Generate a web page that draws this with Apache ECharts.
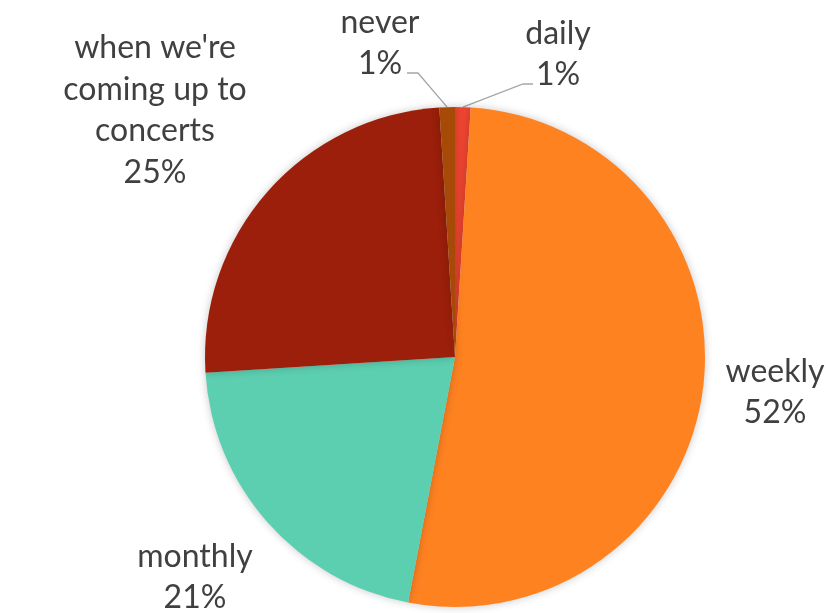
<!DOCTYPE html>
<html>
<head>
<meta charset="utf-8">
<script src="https://cdn.jsdelivr.net/npm/echarts@6/dist/echarts.min.js"></script>
<style>
  html, body { margin: 0; padding: 0; background: #fff; }
  #chart { width: 838px; height: 613px; }
</style>
</head>
<body>
<div id="chart"></div>
<script>
// How often people practise, share of responses (%)
const categories = ['daily', 'weekly', 'monthly', "when we're coming up to concerts", 'never'];
const shares = [1, 52, 21, 25, 1];
const sliceColors = ['#EF4530', '#FF8221', '#5DCFB1', '#9B1F0A', '#A84A07'];

// Wrapped label text for the long category name
const wrappedNames = { "when we're coming up to concerts": "when we're\ncoming up to\nconcerts" };

// Label block centres (px); leader hook = [end dx, end dy, elbow dx] relative to the centre
const labelSpots = [
  { x: 558, y: 54, hook: [-25, 30, -35] },
  { x: 775, y: 392, hook: null },
  { x: 195, y: 577, hook: null },
  { x: 155, y: 110, hook: null },
  { x: 380, y: 43, hook: [27, 30, 38] }
];

const chart = echarts.init(document.getElementById('chart'), null, { renderer: 'canvas' });

chart.setOption({
  animation: false,
  backgroundColor: '#ffffff',
  series: [{
    type: 'pie',
    center: [455, 357],
    radius: 250,
    startAngle: 90,
    clockwise: true,
    avoidLabelOverlap: false,
    data: categories.map((name, i) => ({
      name: name,
      value: shares[i],
      itemStyle: { color: sliceColors[i] },
      labelLine: { show: !!labelSpots[i].hook }
    })),
    itemStyle: {
      borderWidth: 0,
      shadowBlur: 8,
      shadowColor: 'rgba(0,0,0,0.22)'
    },
    label: {
      show: true,
      position: 'outside',
      formatter: p => (wrappedNames[p.name] || p.name) + '\n' + Math.round(p.percent) + '%',
      fontFamily: 'Lato, "Open Sans", sans-serif',
      fontSize: 32,
      lineHeight: 41.5,
      color: '#404040',
      align: 'center'
    },
    labelLine: {
      show: true,
      length: 10,
      length2: 10,
      lineStyle: { color: '#A6A6A6', width: 1.3 }
    },
    labelLayout: p => {
      const s = labelSpots[p.dataIndex];
      const out = { x: s.x, y: s.y, align: 'center', verticalAlign: 'middle' };
      if (s.hook && p.labelLinePoints) {
        const edge = p.labelLinePoints[0];
        const ey = s.y + s.hook[1];
        out.labelLinePoints = [edge, [s.x + s.hook[2], ey], [s.x + s.hook[0], ey]];
      }
      return out;
    }
  }]
});
</script>
</body>
</html>
